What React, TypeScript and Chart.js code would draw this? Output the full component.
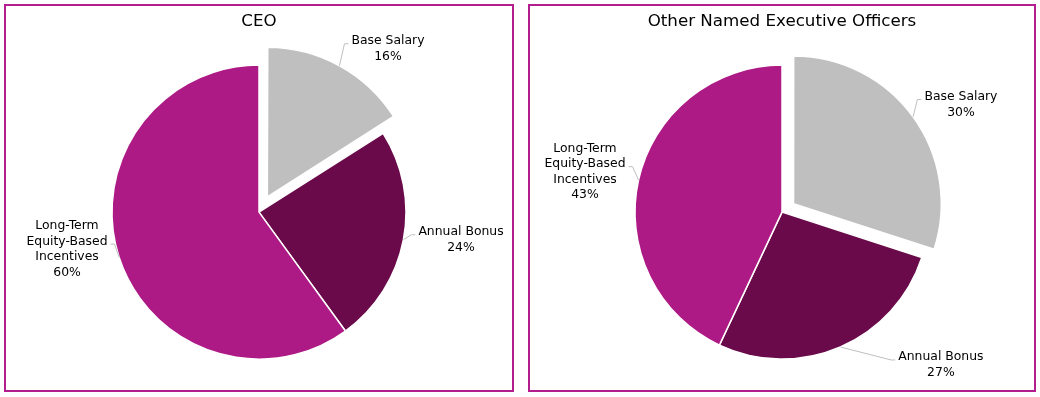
import React, { useEffect, useRef } from "react";
import { Chart, registerables } from "chart.js";

Chart.register(...registerables);

// ---- Data ----
const categories: string[][] = [
  ["Base Salary"],
  ["Annual Bonus"],
  ["Long-Term", "Equity-Based", "Incentives"],
];
const ceoValues: number[] = [16, 24, 60];
const neoValues: number[] = [30, 27, 43];
const ceoTitle = "CEO";
const neoTitle = "Other Named Executive Officers";

// ---- Styles / layout (not data) ----
const sliceColors = ["#BFBFBF", "#6A0A4A", "#AD1A85"];
const FONT = '"DejaVu Sans", Verdana, sans-serif';
// label placement: angle (deg clockwise from 12 o'clock) and distance (ratio of radius) from pie centre
const ceoLabelLayout = [
  { angle: 38.3, dist: 1.416 },
  { angle: 97.8, dist: 1.387 },
  { angle: 259.1, dist: 1.33 },
];
const neoLabelLayout = [
  { angle: 59.0, dist: 1.42 },
  { angle: 133.9, dist: 1.5 },
  { angle: 281.6, dist: 1.368 },
];
// explode distance in px per slice
const ceoExplode = [20, 0, 0];
const neoExplode = [15, 0, 0];

function explodeFactor(fraction: number) {
  const circ = fraction * Math.PI * 2;
  const fix = 1 - Math.sin(Math.min(Math.PI, circ));
  return (1 + fix) / 4;
}

function offsetsFor(px: number[], values: number[]) {
  const total = values.reduce((a, b) => a + b, 0);
  return px.map((p, i) => (p === 0 ? 0 : p / explodeFactor(values[i] / total)));
}

const labelPlugin = {
  id: "pieLabels",
  afterDatasetsDraw(chart: any, _args: any, opts: any) {
    const { ctx } = chart;
    const meta = chart.getDatasetMeta(0);
    const layout = opts.layout as { angle: number; dist: number }[];
    const labels = chart.data.labels as string[][];
    const data = chart.data.datasets[0].data as number[];
    const lineH = 15.5;
    ctx.save();
    ctx.font = `12.4px ${FONT}`;
    ctx.textAlign = "center";
    ctx.textBaseline = "middle";
    meta.data.forEach((arc: any, i: number) => {
      const { x, y, startAngle, endAngle, outerRadius, circumference } = arc;
      const mid = (startAngle + endAngle) / 2;
      const off = arc.options.offset || 0;
      const fix = 1 - Math.sin(Math.min(Math.PI, circumference || 0));
      const shift = (off / 4) * (1 + fix);
      const ax = x + Math.cos(mid) * (outerRadius + shift);
      const ay = y + Math.sin(mid) * (outerRadius + shift);
      const L = layout[i];
      const a = ((L.angle - 90) * Math.PI) / 180;
      const cx = x + Math.cos(a) * L.dist * outerRadius;
      const cy = y + Math.sin(a) * L.dist * outerRadius;
      const lines = [...labels[i], `${data[i]}%`];
      const w = Math.max(...lines.map((s) => ctx.measureText(s).width));
      const h = lines.length * lineH;
      const top = cy - h / 2;
      // leader line
      const rightSide = cx > x;
      const edgeX = rightSide ? cx - w / 2 - 3 : cx + w / 2 + 3;
      const elbowX = rightSide ? edgeX - 4 : edgeX + 4;
      const attachY = cy - 5;
      ctx.strokeStyle = "#BFBFBF";
      ctx.lineWidth = 1;
      ctx.beginPath();
      ctx.moveTo(ax, ay);
      ctx.lineTo(elbowX, attachY);
      ctx.lineTo(edgeX, attachY);
      ctx.stroke();
      ctx.fillStyle = "#000";
      lines.forEach((s, k) => {
        ctx.fillText(s, cx, top + lineH / 2 + k * lineH);
      });
    });
    ctx.restore();
  },
};

function PieBox(props: {
  title: string;
  values: number[];
  layout: { angle: number; dist: number }[];
  explode: number[];
  style: React.CSSProperties;
}) {
  const ref = useRef<HTMLCanvasElement>(null);
  useEffect(() => {
    if (!ref.current) return;
    const chart = new Chart(ref.current, {
      type: "pie",
      data: {
        labels: categories as any,
        datasets: [
          {
            data: props.values,
            backgroundColor: sliceColors,
            borderColor: "#FFFFFF",
            borderWidth: 1.5,
            offset: offsetsFor(props.explode, props.values),
          },
        ],
      },
      options: {
        animation: false,
        responsive: true,
        maintainAspectRatio: false,
        events: [],
        radius: 147,
        layout: { padding: 0 },
        plugins: {
          legend: { display: false },
          tooltip: { enabled: false },
          title: {
            display: true,
            text: props.title,
            color: "#000",
            font: { family: FONT, size: 16.7, weight: "normal", lineHeight: 1.15 },
            padding: { top: 6, bottom: 3 },
          },
          pieLabels: { layout: props.layout },
        } as any,
      },
      plugins: [labelPlugin],
    });
    return () => chart.destroy();
  }, []);
  return (
    <div
      style={{
        position: "absolute",
        border: "2px solid #B31E8C",
        boxSizing: "content-box",
        ...props.style,
      }}
    >
      <canvas ref={ref} />
    </div>
  );
}

export default function App() {
  return (
    <div
      style={{
        position: "absolute",
        left: 0,
        top: 0,
        width: 1040,
        height: 397,
        background: "#fff",
      }}
    >
      <PieBox
        title={ceoTitle}
        values={ceoValues}
        layout={ceoLabelLayout}
        explode={ceoExplode}
        style={{ left: 4, top: 4, width: 506, height: 384 }}
      />
      <PieBox
        title={neoTitle}
        values={neoValues}
        layout={neoLabelLayout}
        explode={neoExplode}
        style={{ left: 528, top: 4, width: 504, height: 384 }}
      />
    </div>
  );
}
